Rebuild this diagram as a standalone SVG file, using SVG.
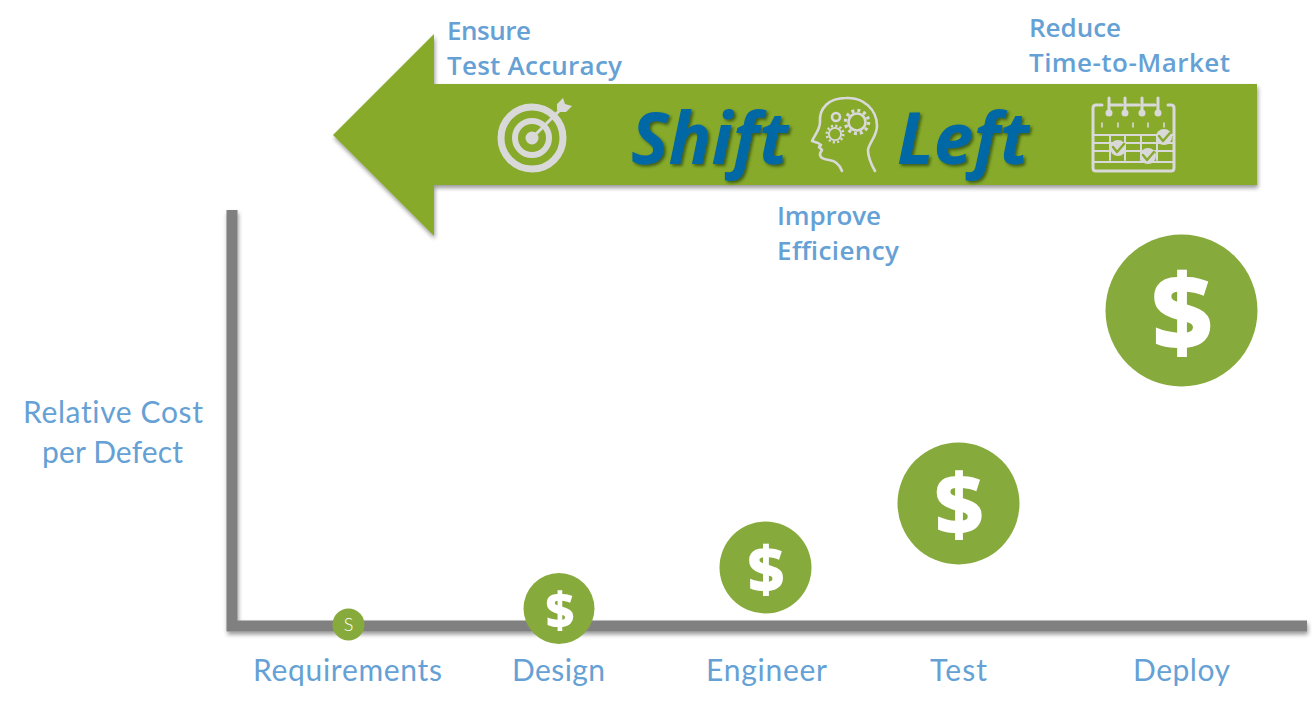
<svg xmlns="http://www.w3.org/2000/svg" width="1312" height="710" viewBox="0 0 1312 710">
<defs>
<filter id="sh" x="-5%" y="-10%" width="110%" height="120%"><feDropShadow dx="1" dy="3" stdDeviation="2" flood-color="#000" flood-opacity="0.4"/></filter>
<filter id="ts" x="-10%" y="-10%" width="120%" height="125%"><feDropShadow dx="2" dy="2" stdDeviation="1.5" flood-color="#1c3a10" flood-opacity="0.7"/></filter>
<g id="gear"><circle r="8.500" fill="none" stroke="#d9d9d9" stroke-width="2.600"/><circle r="11.500" fill="none" stroke="#d9d9d9" stroke-width="3.400" stroke-linecap="butt" stroke-dasharray="3 3.020"/></g>
</defs>
<style>
.bt{font-family:"Open Sans","Liberation Sans",sans-serif;font-weight:600;font-size:26px;fill:#65a1d5}
.lb{font-family:"Lato","Noto Sans",sans-serif;font-size:30px;fill:#65a1d5;text-anchor:middle;font-variant-ligatures:none}
.ti{font-family:"Open Sans","Liberation Sans",sans-serif;font-weight:700;font-style:italic;font-size:71px;fill:#0067a5;filter:url(#ts)}
.c{fill:#87aa3c}
.d{font-family:"Open Sans","Liberation Sans",sans-serif;font-weight:800;fill:#fff;text-anchor:middle}
.ic{fill:none;stroke:#d9d9d9;stroke-linecap:round;stroke-linejoin:round}
</style>
<g id="connectors">
<path id="axes" d="M232 210V626H1307" fill="none" stroke="#808080" stroke-width="11" filter="url(#sh)"/>
</g>
<g id="arrow">
<path d="M1257 84H434V34L333 135L434 236V185H1257Z" fill="#87aa2c" filter="url(#sh)"/>
<text class="ti" x="631" y="164">Shift</text>
<text class="ti" x="897" y="164">Left</text>
</g>
<g id="icon-target" class="ic">
<circle cx="532" cy="138" r="31" stroke-width="7"/>
<circle cx="532" cy="138" r="17" stroke-width="6"/>
<circle cx="532" cy="138" r="6.500" fill="#d9d9d9" stroke="none"/>
<path d="M532 138L560 110" stroke-width="3"/>
<path d="M557 104L563 98L565 104L572 106L566 112L560 112L557 110Z" fill="#d9d9d9" stroke="none"/>
</g>
<g id="icon-head" class="ic" stroke-width="2.600">
<path d="M842 171C840 165 836 161 829 160C823 159 820 158 820 154C820 152 822 151 822 150L819 147L821 145L818 143L812 141C814 136 820 130 820 122C819 108 829 98 846 98C864 97 877 110 877 126C877 136 869 143 868 150C868 157 871 164 875 171"/>
<use href="#gear" x="857" y="122"/>
<use href="#gear" transform="translate(835 134) scale(.72)"/>
<circle cx="836" cy="117" r="4"/>
</g>
<g id="icon-calendar" class="ic" stroke-width="3">
<path d="M1102 105H1096Q1093 105 1093 108V168Q1093 171 1096 171H1171Q1174 171 1174 168V108Q1174 105 1171 105H1168"/>
<path d="M1109 98V113M1125 98V113M1142 98V113M1158 98V113M1110 105H1122M1127 105H1139M1144 105H1155"/>
<g fill="#d9d9d9" stroke="none"><circle cx="1109" cy="113" r="3.500"/><circle cx="1125" cy="113" r="3.500"/><circle cx="1142" cy="113" r="3.500"/><circle cx="1158" cy="113" r="3.500"/></g>
<path d="M1102 123V127M1118 123V127M1133 123V127M1148 123V127M1164 123V127" stroke-width="1.600"/>
<path d="M1093 135H1174M1093 143H1174M1093 151H1174M1093 162H1174M1110 135V160M1125 135V160M1141 135V160M1157 135V160" stroke-width="2"/>
<g fill="#d9d9d9" stroke="none"><circle cx="1118" cy="148" r="8"/><circle cx="1148" cy="156" r="8"/><circle cx="1164" cy="137" r="8"/></g>
<path d="M1113 147L1117 152L1124 144M1143 155L1147 160L1154 152M1159 136L1163 141L1170 133" stroke="#87aa2c" stroke-width="2.400"/>
</g>
<g id="note-accuracy"><text class="bt" x="447" y="40" textLength="84">Ensure</text><text class="bt" x="447" y="75" textLength="175">Test Accuracy</text></g>
<g id="note-time"><text class="bt" x="1029" y="37" textLength="92">Reduce</text><text class="bt" x="1029" y="72" textLength="201">Time-to-Market</text></g>
<g id="note-efficiency"><text class="bt" x="777" y="225" textLength="104">Improve</text><text class="bt" x="777" y="260" textLength="122">Efficiency</text></g>
<g id="y-label"><text class="lb" x="113" y="423" textLength="180">Relative Cost</text><text class="lb" x="112.500" y="463" textLength="141">per Defect</text></g>
<g id="requirements"><circle class="c" cx="348.500" cy="624.500" r="16"/><text x="348.500" y="631" text-anchor="middle" font-family="Lato,sans-serif" font-weight="300" font-size="18" fill="#fff">S</text><text class="lb" x="347.500" y="681" textLength="189">Requirements</text></g>
<g id="design"><circle class="c" cx="559" cy="608.500" r="35.500"/><text class="d" x="560" y="628" font-size="50">$</text><text class="lb" x="558.500" y="681" textLength="93">Design</text></g>
<g id="engineer"><circle class="c" cx="765.500" cy="567.500" r="46"/><text class="d" x="766" y="592" font-size="64">$</text><text class="lb" x="766.500" y="681" textLength="121">Engineer</text></g>
<g id="test"><circle class="c" cx="958.500" cy="503.500" r="61"/><text class="d" x="959" y="535" font-size="85">$</text><text class="lb" x="958.500" y="681" textLength="57">Test</text></g>
<g id="deploy"><circle class="c" cx="1181.500" cy="310.500" r="76"/><text class="d" x="1182" y="351" font-size="106">$</text><text class="lb" x="1181.500" y="681" textLength="97">Deploy</text></g>
</svg>
